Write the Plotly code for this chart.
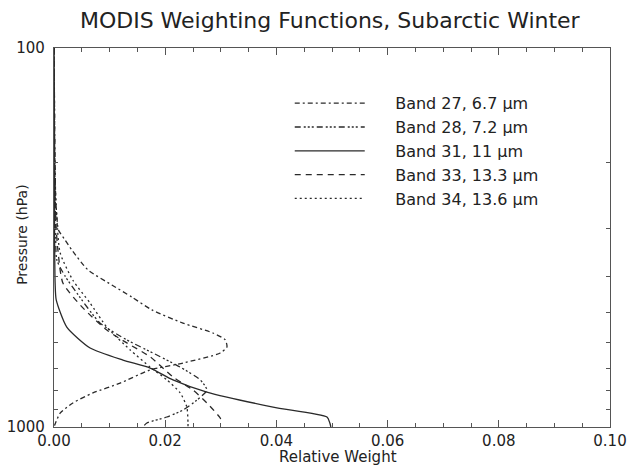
import plotly.graph_objects as go

# ---- data (pressure in hPa, relative weight) ----
p27 = [100, 150, 200, 250, 276, 302, 321, 341, 385, 422, 454, 491, 532, 565, 589, 615, 638, 678, 707, 766, 813, 864, 919, 982, 1000]
w27 = [0.0, 0.0001, 0.0002, 0.0003, 0.0005, 0.0008, 0.0020, 0.0032, 0.0061, 0.0104, 0.0140, 0.0176, 0.0232, 0.0286, 0.0308, 0.0311, 0.0299, 0.0232, 0.0173, 0.0119, 0.0070, 0.0034, 0.0011, 0.0002, 0.0]

p28 = [100, 150, 200, 237, 300, 362, 400, 443, 532, 589, 638, 695, 751, 799, 849, 902, 941, 976, 1000]
w28 = [0.0, 0.0001, 0.0001, 0.0002, 0.0003, 0.0005, 0.0020, 0.0041, 0.0083, 0.0131, 0.0178, 0.0227, 0.0263, 0.0275, 0.0257, 0.0232, 0.0203, 0.0167, 0.0160]

p31 = [100, 200, 300, 417, 462, 545, 619, 666, 699, 751, 809, 886, 941, 975, 1000]
w31 = [0.0, 0.0001, 0.0001, 0.0002, 0.0004, 0.0023, 0.0065, 0.0124, 0.0173, 0.0214, 0.0275, 0.0394, 0.0491, 0.0496, 0.0498]

p33 = [100, 200, 252, 300, 341, 417, 485, 555, 600, 653, 738, 799, 864, 947, 960]
w33 = [0.0, 0.0001, 0.0002, 0.0004, 0.0007, 0.0016, 0.0052, 0.0095, 0.0131, 0.0173, 0.0214, 0.0250, 0.0275, 0.0299, 0.0300]

p34 = [100, 200, 223, 280, 347, 410, 471, 545, 626, 695, 751, 813, 886, 976, 1000]
w34 = [0.0, 0.0001, 0.0002, 0.0005, 0.0011, 0.0034, 0.0065, 0.0095, 0.0137, 0.0173, 0.0203, 0.0227, 0.0239, 0.0241, 0.0241]

labels = ["Band 27, 6.7 µm", "Band 28, 7.2 µm", "Band 31, 11 µm", "Band 33, 13.3 µm", "Band 34, 13.6 µm"]

x_ticks = [0.0, 0.02, 0.04, 0.06, 0.08, 0.10]
y_ticks = [100, 1000]
y_minor = [200, 300, 400, 500, 600, 700, 800, 900]

FONT = "DejaVu Sans, Liberation Sans, Arial, sans-serif"
INK = "#222222"

series = [
    (w27, p27, "5px,3px,2px,3px"),
    (w28, p28, "6px,3px,2px,2px,2px,2px,2px,3px"),
    (w31, p31, "solid"),
    (w33, p33, "6px,5px"),
    (w34, p34, "2px,3px"),
]

fig = go.Figure()
for (w, p, dash), name in zip(series, labels):
    fig.add_trace(go.Scatter(
        x=w, y=p, mode="lines", name="\u00a0" * 5 + name,
        line=dict(color="#2a2a2a", width=1.3, dash=dash, shape="spline", smoothing=0.6),
    ))

fig.update_layout(
    width=627, height=467,
    margin=dict(l=54, r=17, t=48, b=40, autoexpand=False),
    paper_bgcolor="white", plot_bgcolor="white",
    font=dict(family=FONT, color=INK, size=14),
    title=dict(text="MODIS Weighting Functions, Subarctic Winter",
               x=0.526, xanchor="center", y=0.957, yanchor="middle",
               font=dict(size=22, color=INK, family=FONT)),
    showlegend=True,
    legend=dict(x=0.424, y=0.899, xanchor="left", yanchor="top",
                bgcolor="rgba(0,0,0,0)", borderwidth=0,
                font=dict(size=16, color=INK, family=FONT),
                itemwidth=70, tracegroupgap=0),
    annotations=[
        dict(text="Pressure (hPa)", xref="paper", yref="paper",
             x=-0.0576, y=0.507, xanchor="center", yanchor="middle",
             textangle=-90, showarrow=False, font=dict(size=14, color=INK)),
        dict(text="Relative Weight", xref="paper", yref="paper",
             x=0.51, y=0, xanchor="center", yanchor="middle", yshift=-30,
             showarrow=False, font=dict(size=15, color=INK)),
    ],
)

fig.update_xaxes(
    range=[0, 0.1], tickvals=x_ticks, tickformat=".2f",
    ticks="inside", ticklen=7, tickcolor="#555", tickwidth=1,
    minor=dict(dtick=0.005, ticks="inside", ticklen=4, tickcolor="#555"),
    showline=True, linecolor="#555", linewidth=1.2, mirror="allticks",
    showgrid=False, zeroline=False, automargin=False,
    tickfont=dict(size=15, color=INK),
)
fig.update_yaxes(
    type="log", range=[3, 2], tickvals=y_ticks, ticktext=["100", "1000"],
    ticks="inside", ticklen=7, tickcolor="#555", tickwidth=1,
    minor=dict(tickvals=y_minor, ticks="inside", ticklen=4, tickcolor="#555"),
    showline=True, linecolor="#555", linewidth=1.2, mirror="allticks",
    showgrid=False, zeroline=False, automargin=False, ticklabelstandoff=5,
    tickfont=dict(size=15, color=INK),
)

fig.write_html(
    "out.html",
    config={"displayModeBar": False},
    post_script="document.body.style.margin='0';"
                "document.documentElement.style.overflow='hidden';"
                "document.body.style.overflow='hidden';",
)
